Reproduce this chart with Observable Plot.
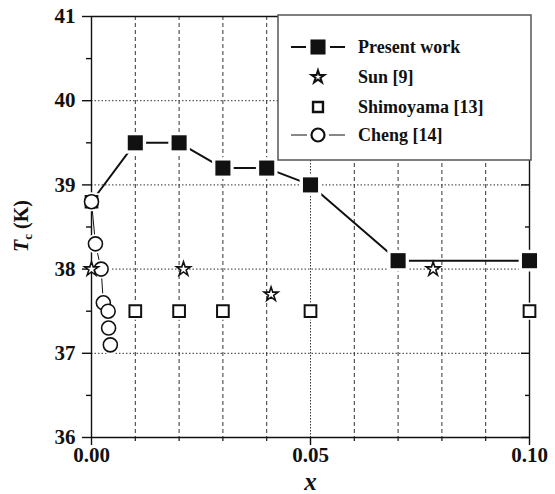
<!DOCTYPE html>
<html>
<head>
<meta charset="utf-8">
<script src="https://cdn.jsdelivr.net/npm/d3@7"></script>
<script src="https://cdn.jsdelivr.net/npm/@observablehq/plot@0.6"></script>
<style>
  html, body { margin: 0; padding: 0; background: #fff; }
  #chart { width: 555px; height: 494px; }
</style>
</head>
<body>
<div id="chart"></div>
<script>
// ---- data ----
const presentX  = [0, 0.01, 0.02, 0.03, 0.04, 0.05, 0.07, 0.10];
const presentTc = [38.8, 39.5, 39.5, 39.2, 39.2, 39.0, 38.1, 38.1];
const sunX  = [0.0, 0.021, 0.041, 0.078];
const sunTc = [38.0, 38.0, 37.7, 38.0];
const shimX  = [0, 0.01, 0.02, 0.03, 0.05, 0.10];
const shimTc = [38.8, 37.5, 37.5, 37.5, 37.5, 37.5];
const chengX  = [0, 0.0009, 0.0022, 0.0027, 0.0038, 0.0039, 0.0043];
const chengTc = [38.8, 38.3, 38.0, 37.6, 37.5, 37.3, 37.1];

const yTicks = [36, 37, 38, 39, 40, 41];
const yMinor = [36.5, 37.5, 38.5, 39.5, 40.5];
const yGrid = [37, 38, 39, 40];
const xTicks = [0, 0.05, 0.10];
const xMinor = [0.01, 0.02, 0.03, 0.04, 0.06, 0.07, 0.08, 0.09];
const xGridDash = [0.01, 0.02, 0.03, 0.04, 0.06, 0.07, 0.08, 0.09];
const xGridDot = [0.05];

const legendLabels = ["Present work", "Sun [9]", "Shimoyama [13]", "Cheng [14]"];

const present = presentX.map((x, i) => ({x, y: presentTc[i]}));
const presentMarked = present.filter(d => d.x > 0);
const sun = sunX.map((x, i) => ({x, y: sunTc[i]}));
const shim = shimX.map((x, i) => ({x, y: shimTc[i]}));
const cheng = chengX.map((x, i) => ({x, y: chengTc[i]}));

const FONT = "Liberation Serif, Times New Roman, serif";
const INK = "#111";

const plot = Plot.plot({
  width: 555,
  height: 494,
  marginLeft: 91,
  marginRight: 26,
  marginTop: 16,
  marginBottom: 57,
  x: {domain: [0, 0.1]},
  y: {domain: [36, 41]},
  style: {fontFamily: FONT, fontWeight: "bold", fontSize: "21px", color: INK, background: "#fff"},
  marks: [
    // grid
    Plot.ruleX(xGridDash, {stroke: "#333", strokeWidth: 1, strokeDasharray: "4,3"}),
    Plot.ruleX(xGridDot, {stroke: "#333", strokeWidth: 1, strokeDasharray: "1.5,1.5"}),
    Plot.ruleY(yGrid, {stroke: "#333", strokeWidth: 1, strokeDasharray: "1.5,2"}),
    // frame
    Plot.ruleX([0, 0.1], {stroke: INK, strokeWidth: 1.4}),
    Plot.ruleY([36, 41], {stroke: INK, strokeWidth: 1.4}),
    // axes
    Plot.axisY({ticks: yTicks, tickSize: 9, tickPadding: 7, tickFormat: d => String(d), fontSize: 21, fontWeight: "bold", label: null, stroke: INK, strokeWidth: 1.4}),
    Plot.axisY({ticks: yMinor, tickSize: 5, text: null, label: null, stroke: INK, strokeWidth: 1.4}),
    Plot.axisY({anchor: "right", ticks: yTicks, tickSize: 9, dx: -9, text: null, label: null, stroke: INK, strokeWidth: 1.4}),
    Plot.axisY({anchor: "right", ticks: yMinor, tickSize: 5, dx: -5, text: null, label: null, stroke: INK, strokeWidth: 1.4}),
    Plot.axisX({ticks: xTicks, tickSize: 8, tickPadding: 2, tickFormat: d3.format(".2f"), fontSize: 21, fontWeight: "bold", label: null, stroke: INK, strokeWidth: 1.4}),
    Plot.axisX({ticks: xMinor, tickSize: 4, text: null, label: null, stroke: INK, strokeWidth: 1.2}),
    // lines
    Plot.line(present, {x: "x", y: "y", stroke: INK, strokeWidth: 2}),
    Plot.line(cheng, {x: "x", y: "y", stroke: INK, strokeWidth: 1}),
    // halos
    Plot.dot(presentMarked, {x: "x", y: "y", symbol: "square", r: 12.2, fill: "#fff"}),
    Plot.dot(cheng, {x: "x", y: "y", r: 9.5, fill: "#fff"}),
    Plot.dot(shim, {x: "x", y: "y", symbol: "square", r: 9.6, fill: "#fff"}),
    // markers
    Plot.dot(shim, {x: "x", y: "y", symbol: "square", r: 6.6, fill: "#fff", stroke: INK, strokeWidth: 2}),
    Plot.dot(cheng, {x: "x", y: "y", r: 7, fill: "#fff", stroke: INK, strokeWidth: 1.6}),
    Plot.dot(sun, {x: "x", y: "y", symbol: "star", r: 4.4, fill: "#fff", stroke: INK, strokeWidth: 1.6}),
    Plot.dot(presentMarked, {x: "x", y: "y", symbol: "square", r: 8.5, fill: INK, stroke: "none"}),
    // x title
    Plot.text(["x"], {frameAnchor: "bottom", lineAnchor: "middle", dy: 44, text: d => d, fontSize: 25, fontStyle: "italic", fontWeight: "bold", fill: INK})
  ]
});

document.getElementById("chart").appendChild(plot);

// ---- y title and legend (layout) ----
const svg = d3.select(plot);
const yt = svg.append("text")
  .attr("transform", "translate(28,226) rotate(-90)")
  .attr("text-anchor", "middle")
  .attr("font-family", FONT)
  .attr("font-weight", "bold")
  .attr("font-size", 20)
  .attr("fill", INK);
yt.append("tspan").attr("font-style", "italic").text("T");
yt.append("tspan").attr("font-size", 13).attr("dy", 4).text("c");
yt.append("tspan").attr("dy", -4).text(" (K)");

const lg = svg.append("g").attr("text-anchor", "start");
lg.append("rect").attr("x", 278).attr("y", 15).attr("width", 253).attr("height", 145)
  .attr("fill", "#fff").attr("stroke", "#555").attr("stroke-width", 1.5);
const rowsY = [47, 77, 107, 135];
const mx = 318;
// Present work
lg.append("line").attr("x1", 291).attr("x2", 306).attr("y1", rowsY[0]).attr("y2", rowsY[0]).attr("stroke", INK).attr("stroke-width", 2);
lg.append("line").attr("x1", 330).attr("x2", 345).attr("y1", rowsY[0]).attr("y2", rowsY[0]).attr("stroke", INK).attr("stroke-width", 2);
lg.append("path").attr("transform", `translate(${mx},${rowsY[0]})`)
  .attr("d", d3.symbol(d3.symbolSquare, Math.PI * 8.5 * 8.5)()).attr("fill", INK);
// Sun
lg.append("path").attr("transform", `translate(${mx},${rowsY[1]})`)
  .attr("d", d3.symbol(d3.symbolStar, Math.PI * 4.4 * 4.4)()).attr("fill", INK).attr("stroke", INK).attr("stroke-width", 1.6);
lg.append("path").attr("transform", `translate(${mx},${rowsY[1]})`)
  .attr("d", d3.symbol(d3.symbolStar, Math.PI * 2 * 2)()).attr("fill", "#fff");
// Shimoyama
lg.append("path").attr("transform", `translate(${mx},${rowsY[2]})`)
  .attr("d", d3.symbol(d3.symbolSquare, Math.PI * 5.6 * 5.6)()).attr("fill", "#fff").attr("stroke", INK).attr("stroke-width", 2.4);
// Cheng
lg.append("line").attr("x1", 291).attr("x2", 307).attr("y1", rowsY[3]).attr("y2", rowsY[3]).attr("stroke", INK).attr("stroke-width", 1);
lg.append("line").attr("x1", 329).attr("x2", 345).attr("y1", rowsY[3]).attr("y2", rowsY[3]).attr("stroke", INK).attr("stroke-width", 1);
lg.append("circle").attr("cx", mx).attr("cy", rowsY[3]).attr("r", 6.5).attr("fill", "#fff").attr("stroke", INK).attr("stroke-width", 2.2);

legendLabels.forEach((t, i) => {
  lg.append("text").attr("x", 358).attr("y", rowsY[i]).attr("dy", "0.35em")
    .attr("text-anchor", "start")
    .attr("font-family", FONT).attr("font-weight", "bold").attr("font-size", 18)
    .attr("fill", INK).text(t);
});
</script>
</body>
</html>
